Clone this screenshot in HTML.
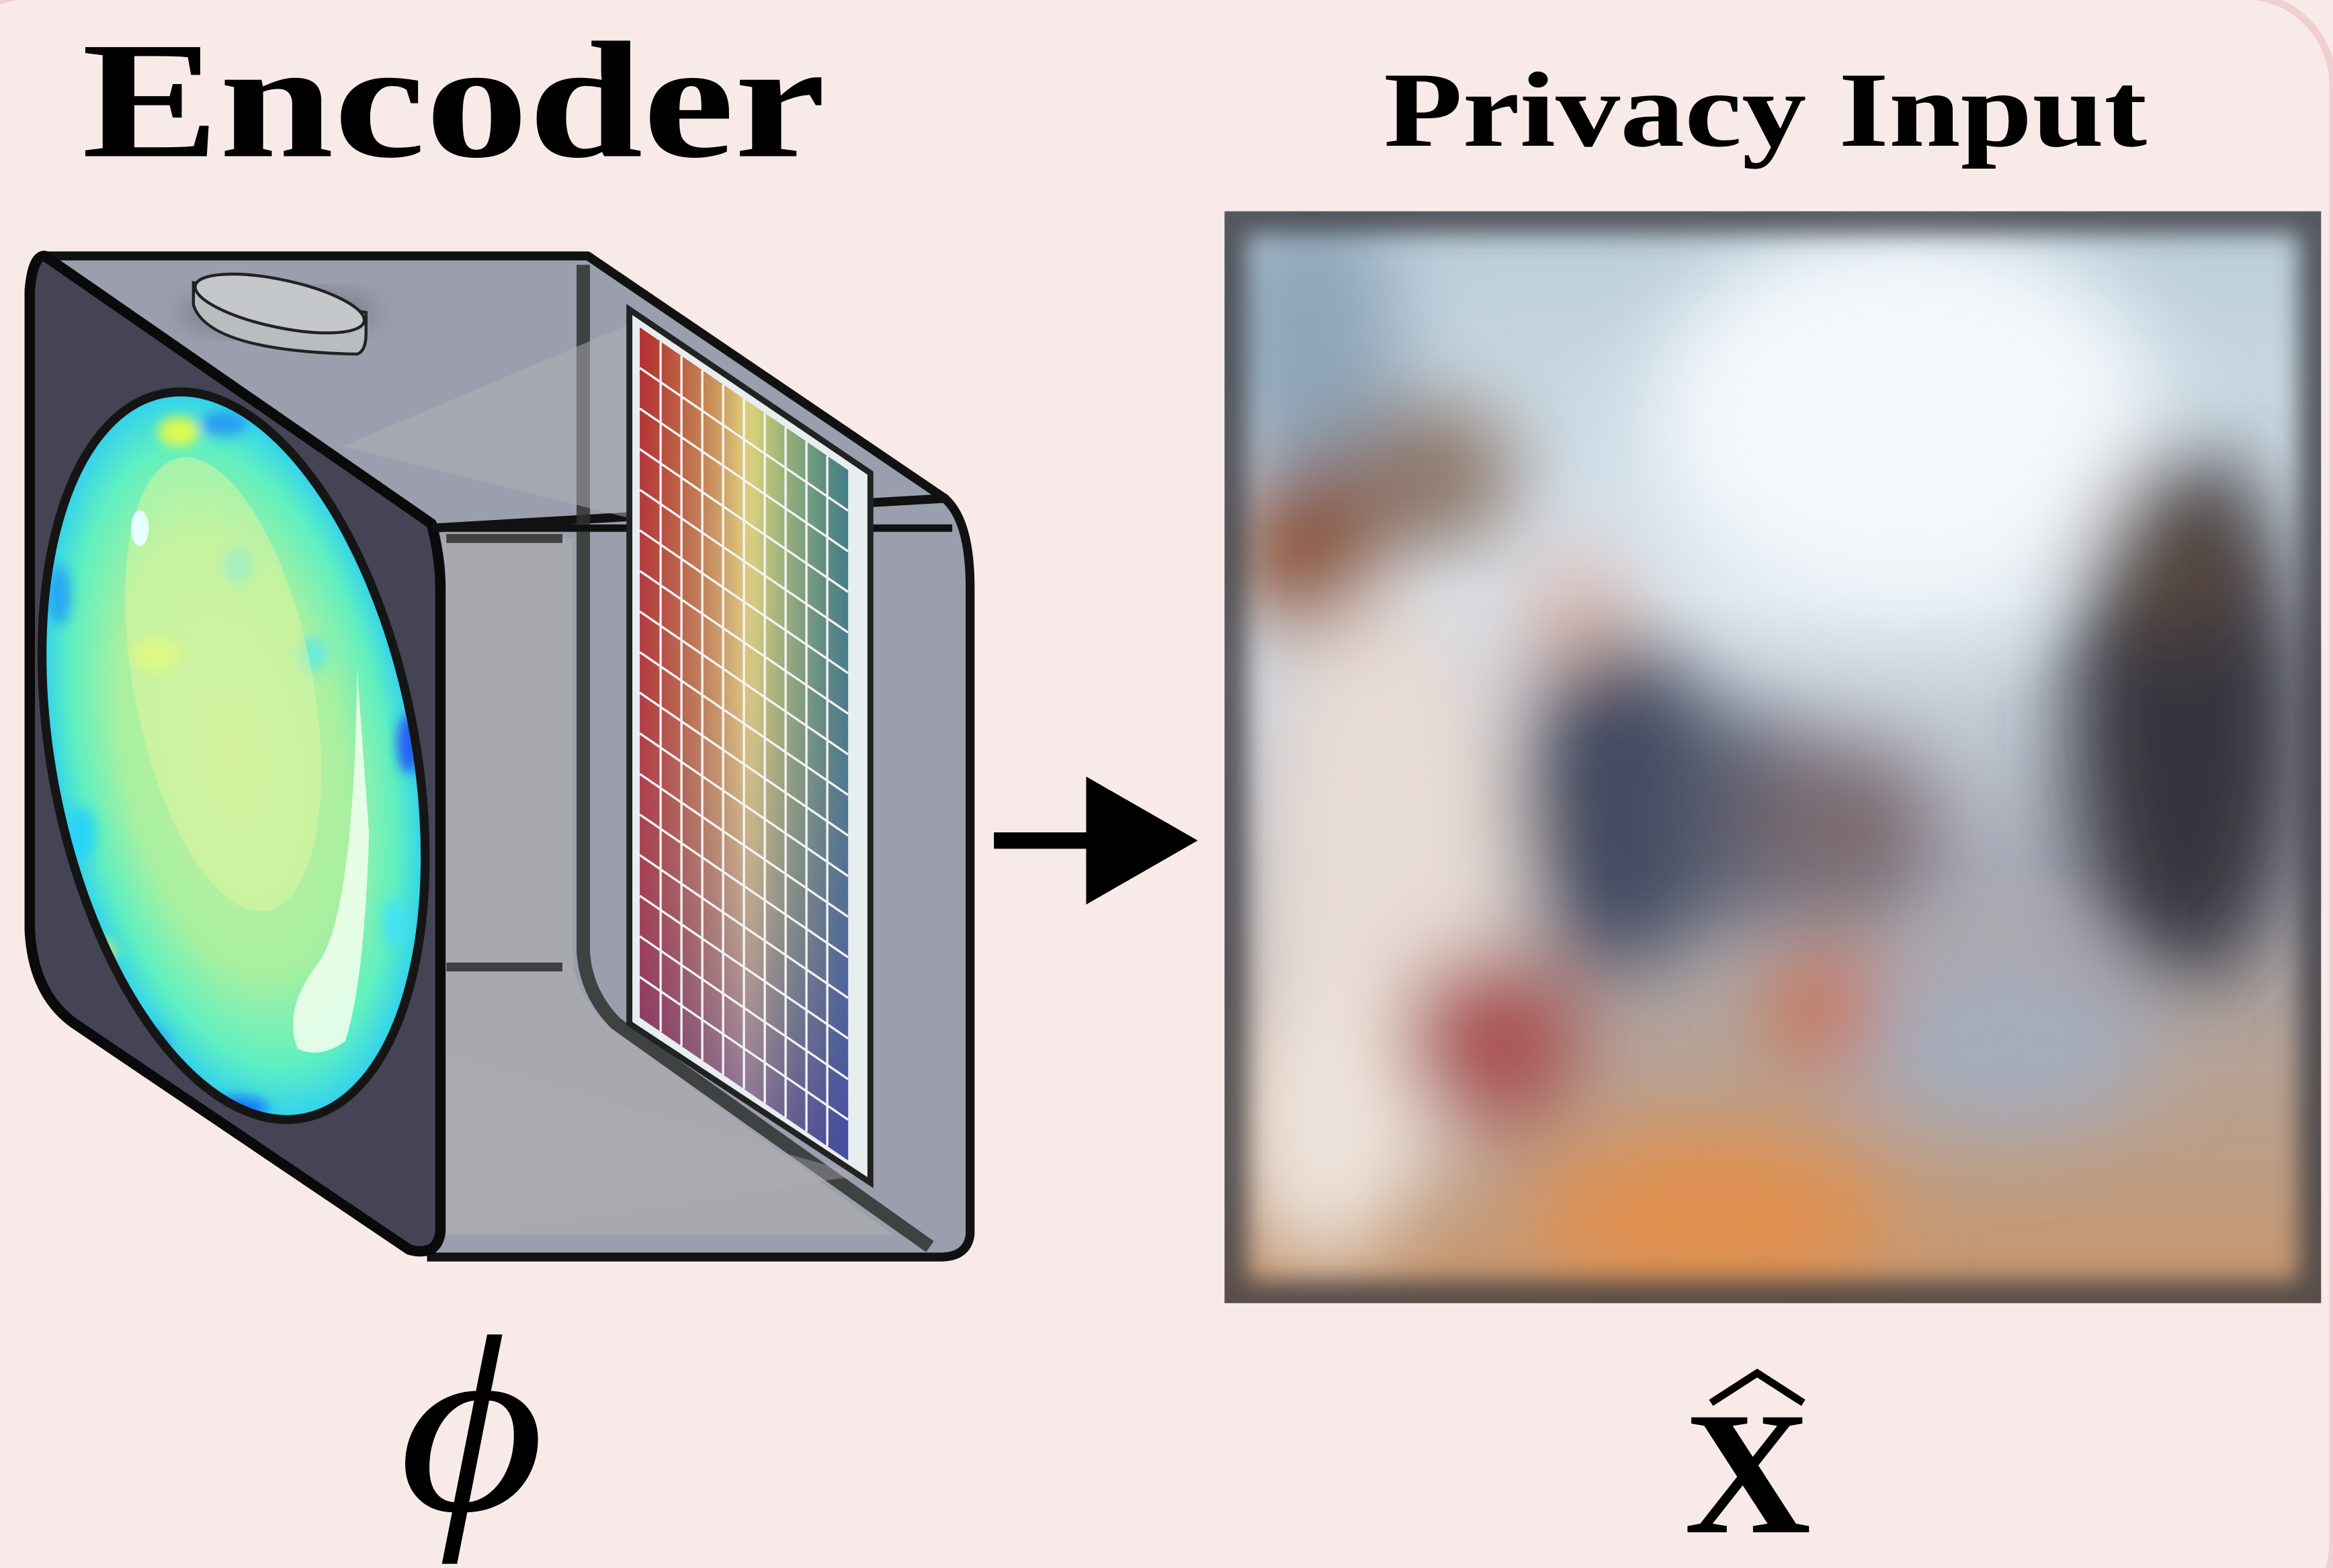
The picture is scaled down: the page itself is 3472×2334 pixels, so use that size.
<!DOCTYPE html>
<html><head><meta charset="utf-8"><style>
html,body{margin:0;padding:0;background:#f9eaea;}
svg{display:block;}
</style></head><body>
<svg width="3472" height="2334" viewBox="0 0 1568 1054" xmlns="http://www.w3.org/2000/svg">
<defs>
<linearGradient id="rainbow" x1="0" y1="0" x2="1" y2="0">
<stop offset="0" stop-color="#d63a2f"/><stop offset="0.3" stop-color="#d98d55"/><stop offset="0.55" stop-color="#dcd67a"/><stop offset="0.8" stop-color="#8cc27a"/><stop offset="1" stop-color="#49a55e"/>
</linearGradient>
<linearGradient id="shade" x1="0" y1="0" x2="0" y2="1">
<stop offset="0" stop-color="#fff" stop-opacity="0"/><stop offset="0.45" stop-color="#c8a0b8" stop-opacity="0.2"/><stop offset="1" stop-color="#5b3fa8" stop-opacity="0.75"/>
</linearGradient>
<linearGradient id="shadeL" x1="0" y1="0" x2="1" y2="0">
<stop offset="0" stop-color="#6a1030" stop-opacity="0.5"/><stop offset="0.5" stop-color="#000" stop-opacity="0"/><stop offset="1" stop-color="#2030c0" stop-opacity="0.6"/>
</linearGradient>
<radialGradient id="lensg" cx="0.5" cy="0.5" r="0.5">
<stop offset="0" stop-color="#c3f0a0"/><stop offset="0.6" stop-color="#a8f0a0"/><stop offset="0.85" stop-color="#5ff0c0"/><stop offset="1" stop-color="#30d0f0"/>
</radialGradient>
<filter id="blur" x="-20%" y="-20%" width="140%" height="140%"><feGaussianBlur stdDeviation="28"/></filter>
<filter id="blur2"><feGaussianBlur stdDeviation="8"/></filter>
<filter id="blur3"><feGaussianBlur stdDeviation="4"/></filter>
<clipPath id="imgclip"><rect x="823" y="142" width="737" height="734"/></clipPath>
<clipPath id="lensclip"><ellipse cx="157" cy="508" rx="122" ry="248" transform="rotate(-11 157 508)"/></clipPath>
<linearGradient id="imgbg" x1="0" y1="0" x2="0" y2="1">
<stop offset="0" stop-color="#b8ccd8"/><stop offset="0.35" stop-color="#dce6ee"/><stop offset="0.6" stop-color="#a8acb8"/><stop offset="1" stop-color="#c8966c"/>
</linearGradient>
</defs>

<rect x="-40" y="-3" width="1608" height="1100" rx="60" fill="#f9eaea" stroke="#efcfd1" stroke-width="5"/>

<text x="55" y="105" textLength="500" lengthAdjust="spacingAndGlyphs" font-family="Liberation Serif, serif" font-weight="bold" font-size="112" fill="#000">Encoder</text>
<text x="930" y="98" textLength="513" lengthAdjust="spacingAndGlyphs" font-family="Liberation Serif, serif" font-weight="bold" font-size="72" fill="#000">Privacy Input</text>

<g>
<path d="M290,352 L635,335 Q652,350 652,395 L652,830 Q650,845 632,845 L290,845 Z" fill="#9b9eac" stroke="#111" stroke-width="6"/>
<path d="M30,172 L395,172 L635,335 L290,355 Z" fill="#9b9eac" stroke="#111" stroke-width="6" stroke-linejoin="round"/>
<path d="M296,362 L385,362 L385,650 Q390,672 410,690 L600,830 L296,830 Z" fill="#a8aaae" opacity="0.9"/>
<path d="M300,362 L378,362 M300,650 L378,650" stroke="#3f4240" stroke-width="6"/>
<path d="M392,178 L392,640 Q394,668 414,688 L625,838" fill="none" stroke="#2e312e" stroke-width="9" opacity="0.85"/>
<path d="M230,300 L430,215 L430,350 Z" fill="#b0b0b6" opacity="0.5"/>
<path d="M300,710 L420,745 L580,790 L300,830 Z" fill="#aeb0b4" opacity="0.4"/>
<path d="M30,172 L290,352 Q296,375 296,395 L296,828 Q294,845 275,840 L50,688 Q22,668 20,625 L20,195 Q22,172 30,172 Z" fill="#444455" stroke="#0a0a0a" stroke-width="7" stroke-linejoin="round"/>
<ellipse cx="188" cy="210" rx="66" ry="16" fill="#6e7282" opacity="0.7" filter="url(#blur2)"/>
<path d="M130,190 L130,205 Q140,236 240,238 Q246,236 246,224 L246,210 Z" fill="#b8bdc0" stroke="#222" stroke-width="2"/>
<ellipse cx="188" cy="204" rx="58" ry="16" transform="rotate(12 188 204)" fill="#c5c8ca" stroke="#222" stroke-width="2"/>
<path d="M290,355 L640,355" stroke="#111" stroke-width="5"/>
</g>

<g>
<ellipse cx="157" cy="508" rx="122" ry="248" transform="rotate(-11 157 508)" fill="url(#lensg)"/>
<g clip-path="url(#lensclip)" filter="url(#blur3)">
<ellipse cx="120" cy="290" rx="14" ry="10" fill="#ffff30" opacity="0.8"/>
<ellipse cx="150" cy="285" rx="16" ry="8" fill="#2080ff" opacity="0.7"/>
<ellipse cx="40" cy="400" rx="8" ry="20" fill="#2090ff" opacity="0.7"/>
<ellipse cx="55" cy="560" rx="10" ry="18" fill="#20d0ff" opacity="0.8"/>
<ellipse cx="65" cy="640" rx="12" ry="10" fill="#ffff40" opacity="0.8"/>
<ellipse cx="100" cy="700" rx="14" ry="10" fill="#20a0ff" opacity="0.8"/>
<ellipse cx="160" cy="745" rx="20" ry="8" fill="#1060ff" opacity="0.8"/>
<ellipse cx="275" cy="500" rx="8" ry="20" fill="#2040ff" opacity="0.8"/>
<ellipse cx="265" cy="620" rx="8" ry="16" fill="#40e0ff" opacity="0.8"/>
<ellipse cx="105" cy="440" rx="16" ry="12" fill="#e0ff60" opacity="0.7"/>
<ellipse cx="160" cy="380" rx="10" ry="12" fill="#40e8ff" opacity="0.6"/>
<ellipse cx="210" cy="440" rx="10" ry="12" fill="#40e8ff" opacity="0.6"/>
</g>
<ellipse cx="157" cy="508" rx="122" ry="248" transform="rotate(-11 157 508)" fill="none" stroke="#151515" stroke-width="6"/>
<ellipse cx="150" cy="460" rx="60" ry="155" transform="rotate(-11 150 460)" fill="#e8f6a0" opacity="0.45"/>
<ellipse cx="94" cy="355" rx="6" ry="12" fill="#e8ffff"/>
<path d="M240,450 Q238,620 212,650 Q190,680 200,705 Q215,712 232,700 Q245,660 248,560 Z" fill="#f4fff0" opacity="0.85"/>
</g>

<g>
<path d="M423,208 L585,318 L585,795 L423,688 Z" fill="#e8eef0" stroke="#222" stroke-width="4"/>
<path d="M430,220 L570,316 L570,780 L430,684 Z" fill="url(#rainbow)"/>
<path d="M430,220 L570,316 L570,780 L430,684 Z" fill="url(#shade)"/>
<path d="M430,220 L570,316 L570,780 L430,684 Z" fill="url(#shadeL)" opacity="0.6"/>
<g id="grid" stroke="#f4f4f4" stroke-width="1.5" fill="none"></g>
</g>

<g>
<line x1="668" y1="565" x2="738" y2="565" stroke="#000" stroke-width="11"/>
<polygon points="730,522 805,565 730,608" fill="#000"/>
</g>

<g clip-path="url(#imgclip)">
<rect x="823" y="142" width="737" height="734" fill="url(#imgbg)"/>
<g filter="url(#blur)">
<ellipse cx="1280" cy="280" rx="170" ry="130" fill="#f4f8fb"/>
<ellipse cx="880" cy="230" rx="60" ry="100" fill="#8ea4b8"/>
<ellipse cx="880" cy="370" rx="50" ry="60" fill="#8a5030"/>
<ellipse cx="960" cy="320" rx="60" ry="50" fill="#8c7468"/>
<ellipse cx="930" cy="600" rx="90" ry="200" fill="#e8dcd6"/>
<ellipse cx="1060" cy="420" rx="40" ry="50" fill="#d8b8b0"/>
<ellipse cx="1090" cy="540" rx="70" ry="110" fill="#424860"/>
<ellipse cx="1175" cy="550" rx="50" ry="70" fill="#5a5e70"/>
<ellipse cx="1470" cy="480" rx="80" ry="180" fill="#34363e"/>
<ellipse cx="1460" cy="380" rx="40" ry="50" fill="#5a4a40"/>
<ellipse cx="1240" cy="560" rx="60" ry="60" fill="#7a6a70"/>
<ellipse cx="1230" cy="680" rx="40" ry="30" fill="#d06030"/>
<ellipse cx="1150" cy="820" rx="120" ry="60" fill="#e09050"/>
<ellipse cx="1350" cy="700" rx="100" ry="60" fill="#a4acbc"/>
<ellipse cx="1000" cy="700" rx="60" ry="60" fill="#a85050"/>
<ellipse cx="890" cy="750" rx="60" ry="100" fill="#eee4dc"/>
</g>
<rect x="823" y="142" width="737" height="734" fill="none" stroke="#3a3a40" stroke-width="30" filter="url(#blur2)" opacity="0.8"/>
</g>

<text x="268" y="1015" textLength="98" lengthAdjust="spacingAndGlyphs" font-family="Liberation Serif, serif" font-style="italic" font-size="170" fill="#000">ϕ</text>
<text x="1132" y="1030" font-family="Liberation Serif, serif" font-weight="bold" font-size="118" fill="#000">X</text>
<path d="M1150,943 L1181,923 L1212,943" fill="none" stroke="#000" stroke-width="5"/>
</svg>
<script>
var g=document.getElementById('grid');
var cols=10, rows=17;
var s='';
for(var i=1;i<cols;i++){var x=430+140*i/cols;var y0=220+96*i/cols;s+='M'+x+','+y0+' L'+x+','+(y0+464)+' ';}
for(var j=1;j<rows;j++){var y=220+464*j/rows;s+='M430,'+y+' L570,'+(y+96)+' ';}
var p=document.createElementNS('http://www.w3.org/2000/svg','path');
p.setAttribute('d',s);


g.appendChild(p);
</script>
</body></html>
